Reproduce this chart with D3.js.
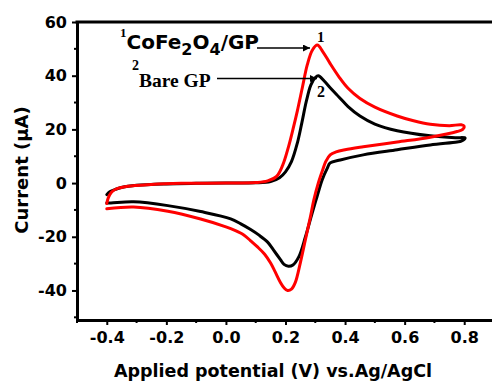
<!DOCTYPE html>
<html><head><meta charset="utf-8">
<script src="https://cdn.jsdelivr.net/npm/d3@7"></script>
<style>body{margin:0;background:#fff}svg{display:block}</style>
</head><body>
<svg id="c" width="492" height="381"></svg>
<script>
// Data (potential in V vs Ag/AgCl, current in µA), in scan order
const redV = [-0.40,-0.395,-0.385,-0.37,-0.33,-0.25,-0.15,0.0,0.10,0.14,0.17,0.19,0.21,0.225,0.24,0.257,0.273,0.29,0.307,0.325,0.35,0.38,0.41,0.45,0.50,0.575,0.63,0.686,0.75,0.79,0.80,
  0.795,0.776,0.686,0.575,0.461,0.40,0.37,0.35,0.335,0.325,0.31,0.295,0.284,0.267,0.25,0.233,0.22,0.207,0.195,0.183,0.165,0.15,0.13,0.105,0.083,0.06,0.03,0.0,-0.085,-0.195,-0.31,-0.40];
const redI = [-7.6,-5.5,-3.5,-2.3,-1.2,-0.5,-0.1,0.0,0.2,0.8,2.5,6.5,13.5,20,27,35.8,44,49.5,51.4,49,44.5,39.5,35.3,31.5,28.3,25,23.2,21.9,21.4,21.7,21.2,
  20.0,19.2,17.1,15.3,13.5,12.4,11.6,10.5,8,5,0,-6.3,-12.4,-21,-29.6,-37,-39.5,-40,-39,-37,-33,-29.8,-26.5,-23.7,-21.5,-19.3,-17.6,-16.3,-13.4,-10.5,-8.9,-9.6];
const blackV = [-0.40,-0.39,-0.37,-0.34,-0.30,-0.2,-0.1,0.0,0.10,0.15,0.18,0.20,0.22,0.24,0.255,0.27,0.285,0.30,0.31,0.33,0.35,0.38,0.41,0.45,0.50,0.575,0.686,0.77,0.803,
  0.79,0.776,0.686,0.575,0.461,0.384,0.35,0.34,0.323,0.306,0.29,0.267,0.245,0.225,0.21,0.195,0.183,0.16,0.14,0.11,0.083,0.05,0.016,-0.085,-0.195,-0.31,-0.386,-0.40];
const blackI = [-4.3,-3.2,-2.3,-1.4,-0.8,-0.3,-0.1,0.0,0.1,0.6,2,4.2,8,15,22.5,30.5,36.5,39.3,40,38,35.5,32,28.5,25,22,19.5,17.6,16.9,16.8,
  15.6,15.3,14.2,12.4,10.5,8.6,7.5,5.5,1.2,-5,-11,-20,-27.4,-30.5,-31,-30.3,-28.5,-25,-22,-19.3,-17.3,-15.2,-13.3,-10.6,-8.4,-7.0,-7.4,-7.4];
const xMajor = [-0.4,-0.2,0.0,0.2,0.4,0.6,0.8];
const xMinor = [-0.5,-0.3,-0.1,0.1,0.3,0.5,0.7,0.9];
const yMajor = [-40,-20,0,20,40,60];
const yMinor = [-50,-30,-10,10,30,50];

const svg = d3.select("#c");
const L = 77, R = 494, T = 22, B = 320;
const x = d3.scaleLinear().domain([-0.5, 0.9]).range([L, R]);
const y = d3.scaleLinear().domain([-51, 60]).range([B, T]);
const sans = "'DejaVu Sans', sans-serif";
const serif = "'Liberation Serif', 'Times New Roman', serif";

// curves
const line = d3.line().x(d => x(d[0])).y(d => y(d[1])).curve(d3.curveCatmullRom.alpha(0.5));
const blackData = blackV.map((v, i) => [v, blackI[i]]);
const redData = redV.map((v, i) => [v, redI[i]]);
svg.append("path").datum(blackData).attr("d", line).attr("fill", "none").attr("stroke", "#000").attr("stroke-width", 3).attr("stroke-linejoin", "round").attr("stroke-linecap", "round");
svg.append("path").datum(redData).attr("d", line).attr("fill", "none").attr("stroke", "#ff0000").attr("stroke-width", 3).attr("stroke-linejoin", "round").attr("stroke-linecap", "round");

// axes
const yAxis = d3.axisLeft(y).tickValues(yMajor).tickFormat(d3.format("d")).tickSize(5).tickSizeOuter(0).tickPadding(5);
const gy = svg.append("g").attr("transform", `translate(${L},0)`).call(yAxis);
const xAxis = d3.axisBottom(x).tickValues(xMajor).tickFormat(d3.format(".1f")).tickSize(5).tickSizeOuter(0).tickPadding(7);
const gx = svg.append("g").attr("transform", `translate(0,${B})`).call(xAxis);
[gx, gy].forEach(g => {
  g.select(".domain").attr("stroke", "#000").attr("stroke-width", 3);
  g.selectAll(".tick line").attr("stroke", "#000").attr("stroke-width", 2);
  g.selectAll(".tick text").attr("fill", "#000").style("font-family", sans).style("font-weight", "bold").style("font-size", "16px");
});
gx.selectAll(".tick text").text(d => d3.format(".1f")(d).replace("−", "-"));
gy.selectAll(".tick text").text(d => String(d));
// minor ticks
svg.append("g").selectAll("line").data(yMinor).join("line")
  .attr("x1", L - 3).attr("x2", L).attr("y1", d => y(d)).attr("y2", d => y(d)).attr("stroke", "#000").attr("stroke-width", 2);
svg.append("g").selectAll("line").data(xMinor).join("line")
  .attr("y1", B).attr("y2", B + 3).attr("x1", d => x(d)).attr("x2", d => x(d)).attr("stroke", "#000").attr("stroke-width", 2);
// top border
svg.append("line").attr("x1", L - 1.5).attr("x2", R).attr("y1", T).attr("y2", T).attr("stroke", "#000").attr("stroke-width", 3);

// axis titles
svg.append("text").attr("x", 273).attr("y", 377).attr("text-anchor", "middle")
  .style("font-family", sans).style("font-weight", "bold").style("font-size", "17.5px").text("Applied potential (V) vs.Ag/AgCl");
svg.append("text").attr("transform", "translate(28,170) rotate(-90)").attr("text-anchor", "middle")
  .style("font-family", sans).style("font-weight", "bold").style("font-size", "18px").text("Current (µA)");

// annotations
const defs = svg.append("defs");
defs.append("marker").attr("id", "ah").attr("viewBox", "0 0 10 10").attr("refX", 10).attr("refY", 5)
  .attr("markerWidth", 9).attr("markerHeight", 7).attr("markerUnits", "userSpaceOnUse").attr("orient", "auto")
  .append("path").attr("d", "M0,0L10,5L0,10z").attr("fill", "#000");

const t1 = svg.append("text").attr("x", 120).attr("y", 49).style("font-family", sans).style("font-weight", "bold").style("font-size", "20px");
t1.append("tspan").attr("dy", -12).style("font-family", serif).style("font-size", "13px").text("1");
t1.append("tspan").attr("dy", 12).text("CoFe");
t1.append("tspan").attr("dy", 6).style("font-size", "16px").text("2");
t1.append("tspan").attr("dy", -6).text("O");
t1.append("tspan").attr("dy", 6).style("font-size", "16px").text("4");
t1.append("tspan").attr("dy", -6).text("/GP");

const t2 = svg.append("text").attr("x", 132).attr("y", 87).style("font-family", serif).style("font-weight", "bold").style("font-size", "19.5px");
t2.append("tspan").attr("dy", -17).style("font-size", "14px").text("2");
t2.append("tspan").attr("dy", 17).text("Bare GP");

svg.append("line").attr("x1", 257).attr("x2", 310).attr("y1", 48).attr("y2", 48).attr("stroke", "#000").attr("stroke-width", 1.5).attr("marker-end", "url(#ah)");
svg.append("line").attr("x1", 217).attr("x2", 317).attr("y1", 78.5).attr("y2", 78.5).attr("stroke", "#000").attr("stroke-width", 1.5).attr("marker-end", "url(#ah)");
svg.append("text").attr("x", 317).attr("y", 42).style("font-family", serif).style("font-weight", "bold").style("font-size", "15px").text("1");
svg.append("text").attr("x", 317).attr("y", 97).style("font-family", serif).style("font-weight", "bold").style("font-size", "16px").text("2");
</script>
</body></html>
